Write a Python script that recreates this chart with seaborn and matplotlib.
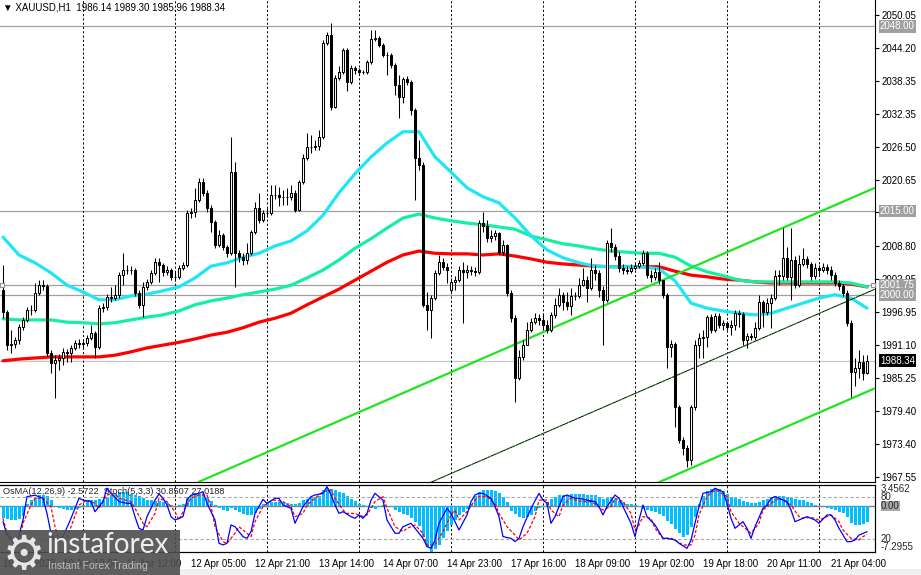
import matplotlib
matplotlib.use("Agg")
import matplotlib.pyplot as plt
import matplotlib.transforms as mtransforms
from matplotlib.patches import Rectangle
import numpy as np
import seaborn as sns

sns.set_style("white")
plt.rcParams['font.family'] = ['Liberation Sans', 'DejaVu Sans']

# ---------------- data (XAUUSD H1, bars 10 Apr 04:00 .. 21 Apr 13:00) ----------------
open_ = [2001.0, 1997.0, 1991.1, 1991.3, 1992.0, 1994.3, 1995.6, 1997.4, 1997.4, 2000.4,
         2001.8, 2001.7, 1989.7, 1987.9, 1988.5, 1988.8, 1989.9, 1989.7, 1990.6, 1991.5,
         1991.3, 1991.5, 1992.4, 1993.3, 1990.8, 1997.7, 1997.9, 1999.7, 1999.5, 2000.1,
         2003.6, 2004.5, 2004.5, 2004.5, 2000.4, 1998.3, 2001.5, 2002.4, 2004.0, 2005.9,
         2005.4, 2004.2, 2004.5, 2003.3, 2003.3, 2004.9, 2005.4, 2014.7, 2014.9, 2017.0,
         2020.2, 2018.3, 2015.6, 2013.1, 2009.0, 2010.8, 2008.6, 2007.5, 2022.0, 2007.5,
         2006.8, 2006.3, 2007.5, 2011.3, 2015.6, 2013.4, 2014.7, 2014.7, 2017.9, 2017.9,
         2017.5, 2017.5, 2017.5, 2018.3, 2015.2, 2020.2, 2024.5, 2026.5, 2026.5, 2026.7,
         2028.3, 2045.1, 2046.5, 2033.6, 2038.8, 2039.9, 2043.8, 2038.1, 2040.6, 2040.2,
         2039.9, 2039.9, 2041.7, 2045.8, 2045.9, 2044.7, 2042.9, 2042.9, 2041.1, 2037.6,
         2035.4, 2038.6, 2038.1, 2033.1, 2024.5, 2023.3, 1998.3, 1997.4, 1999.5, 2004.0,
         2005.9, 2005.1, 2001.0, 2002.4, 2002.7, 2004.5, 2004.2, 2004.5, 2004.3, 2004.2,
         2012.9, 2012.4, 2010.2, 2010.6, 2011.1, 2007.7, 2009.0, 2000.4, 1995.9, 1985.2,
         1989.0, 1991.1, 1993.8, 1995.2, 1995.9, 1995.6, 1994.7, 1993.8, 1996.5, 1998.3,
         2000.1, 1998.8, 1998.1, 1999.9, 1999.9, 2001.8, 2002.7, 2001.3, 2004.5, 2004.0,
         2001.0, 1999.2, 2009.3, 2008.6, 2007.0, 2004.9, 2004.5, 2004.3, 2004.9, 2005.2,
         2005.8, 2007.5, 2003.6, 2003.3, 2004.2, 2002.7, 2000.1, 1990.8, 1991.3, 1980.1,
         1974.2, 1972.7, 1970.6, 1980.1, 1991.1, 1992.4, 1992.6, 1996.1, 1993.8, 1996.3,
         1994.7, 1995.1, 1994.3, 1994.7, 1996.8, 1996.6, 1992.0, 1992.7, 1992.6, 1994.2,
         1998.8, 1997.0, 1998.6, 1999.5, 2003.5, 2003.5, 2006.7, 2003.3, 2006.3, 2001.8,
         2005.6, 2006.5, 2005.6, 2003.5, 2004.9, 2004.5, 2005.1, 2004.5, 2003.6, 2002.2,
         2001.7, 2000.4, 1995.1, 1986.3, 1987.0, 1988.1, 1986.14]
high = [2005.4, 1997.4, 1993.8, 1992.6, 1994.9, 1996.1, 1997.9, 1998.3, 2002.2, 2002.7,
        2002.7, 2002.0, 1990.2, 1989.3, 1989.5, 1990.6, 1990.4, 1991.1, 1992.0, 1992.2,
        1992.0, 1992.9, 1994.7, 1993.6, 1998.3, 1998.6, 2000.2, 2001.5, 2001.8, 2004.2,
        2007.5, 2005.4, 2005.2, 2004.9, 2001.0, 2002.4, 2002.9, 2004.5, 2006.7, 2006.7,
        2005.8, 2005.2, 2004.9, 2004.3, 2005.4, 2005.9, 2015.2, 2015.6, 2019.2, 2020.9,
        2020.9, 2018.8, 2016.1, 2013.4, 2011.7, 2011.1, 2009.0, 2028.3, 2023.8, 2008.1,
        2007.5, 2009.3, 2011.7, 2016.7, 2018.3, 2015.2, 2015.6, 2019.7, 2019.7, 2019.3,
        2018.8, 2019.2, 2019.7, 2018.8, 2020.6, 2025.2, 2029.0, 2028.6, 2027.7, 2029.5,
        2045.6, 2047.0, 2048.6, 2039.3, 2040.9, 2044.2, 2044.2, 2041.1, 2040.9, 2040.6,
        2040.2, 2042.0, 2047.4, 2047.4, 2046.3, 2045.1, 2043.4, 2043.3, 2041.5, 2039.3,
        2039.0, 2039.2, 2038.4, 2033.4, 2027.7, 2023.8, 2000.6, 2000.1, 2004.5, 2007.2,
        2006.7, 2005.8, 2003.1, 2003.4, 2005.2, 2005.9, 2005.4, 2005.2, 2005.1, 2013.4,
        2014.9, 2013.4, 2011.7, 2011.7, 2011.3, 2009.9, 2009.2, 2001.0, 1996.5, 1990.2,
        1992.0, 1995.2, 1995.9, 1996.8, 1996.6, 1996.8, 1995.6, 1997.0, 1999.5, 2001.3,
        2000.6, 2000.6, 2001.3, 2000.6, 2003.1, 2004.9, 2003.4, 2006.7, 2005.4, 2004.5,
        2001.7, 2009.9, 2012.0, 2009.2, 2007.7, 2005.6, 2005.2, 2005.6, 2005.9, 2006.3,
        2008.1, 2007.9, 2004.5, 2004.9, 2005.9, 2002.7, 2000.4, 1992.0, 1991.7, 1980.4,
        1974.7, 1973.3, 1980.4, 1992.0, 1993.3, 1993.8, 1996.5, 1996.6, 1996.8, 1996.8,
        1995.6, 1995.4, 1995.6, 1997.4, 1997.4, 1997.0, 1993.3, 1993.3, 1995.2, 2000.1,
        1999.2, 1999.5, 2000.2, 2004.5, 2004.5, 2012.0, 2008.6, 2012.0, 2007.0, 2007.2,
        2008.4, 2007.0, 2005.9, 2005.8, 2005.4, 2005.8, 2005.6, 2005.2, 2004.2, 2002.7,
        2002.0, 2001.0, 1995.6, 1988.8, 1990.2, 1989.3, 1989.30]
low = [1995.9, 1990.2, 1989.7, 1990.6, 1991.3, 1993.8, 1995.2, 1996.5, 1997.0, 2000.1,
       2001.0, 1989.1, 1986.1, 1981.7, 1986.7, 1987.6, 1988.1, 1988.1, 1990.2, 1990.6,
       1990.6, 1990.9, 1992.0, 1988.8, 1990.4, 1997.0, 1997.4, 1998.8, 1999.2, 1999.5,
       2001.8, 2003.8, 2003.8, 1999.9, 1997.7, 1996.1, 2001.0, 2002.0, 2003.6, 2002.4,
       2003.4, 2003.6, 2002.7, 2002.5, 2002.9, 2004.5, 2005.1, 2013.8, 2014.0, 2016.7,
       2017.7, 2014.9, 2011.3, 2008.4, 2008.6, 2008.1, 2006.8, 2007.2, 2001.5, 2005.9,
       2005.4, 2005.6, 2007.2, 2010.9, 2012.9, 2013.1, 2014.0, 2014.3, 2017.2, 2015.9,
       2016.1, 2016.1, 2017.0, 2014.9, 2015.0, 2019.9, 2024.2, 2025.4, 2025.9, 2025.9,
       2027.9, 2044.7, 2033.1, 2033.4, 2038.4, 2039.5, 2036.5, 2037.7, 2039.5, 2039.3,
       2039.5, 2039.5, 2041.3, 2045.4, 2044.3, 2042.5, 2039.3, 2040.6, 2035.8, 2031.7,
       2034.3, 2037.6, 2032.2, 2017.0, 2022.4, 1997.9, 1993.8, 1992.4, 1999.2, 2003.6,
       2004.5, 2002.2, 2000.6, 2001.0, 2002.4, 1995.1, 2003.1, 2003.6, 2003.4, 2003.8,
       2011.3, 2009.5, 2009.5, 2009.9, 2007.2, 2007.2, 1999.9, 1995.2, 1981.0, 1984.9,
       1988.5, 1991.1, 1993.4, 1994.9, 1994.7, 1993.8, 1993.3, 1993.4, 1995.9, 1997.9,
       1997.4, 1997.4, 1996.5, 1999.2, 1999.5, 2001.7, 1998.8, 2001.0, 2002.7, 1999.7,
       1991.1, 1998.8, 2007.7, 2006.3, 2004.2, 2003.8, 2003.8, 2004.0, 2004.5, 2004.9,
       2005.4, 2003.1, 2002.4, 2002.7, 2002.0, 1999.5, 1987.0, 1989.0, 1976.5, 1973.6,
       1971.5, 1969.3, 1969.7, 1979.5, 1988.8, 1988.8, 1990.8, 1993.3, 1993.4, 1994.2,
       1993.8, 1993.8, 1992.9, 1993.8, 1994.3, 1991.1, 1990.6, 1992.0, 1992.0, 1993.8,
       1994.3, 1996.5, 1994.2, 1999.2, 2001.8, 2002.7, 2002.7, 1999.2, 2001.3, 2001.5,
       2005.2, 2004.9, 2002.7, 2002.9, 2003.6, 2004.2, 2003.8, 2002.7, 2001.7, 2001.0,
       1999.9, 1994.5, 1981.8, 1983.8, 1985.2, 1984.9, 1985.96]
close = [1997.0, 1991.1, 1991.3, 1992.0, 1994.3, 1995.6, 1997.4, 1997.4, 2000.4, 2001.8,
         2001.7, 1989.7, 1987.9, 1988.5, 1988.8, 1989.9, 1989.7, 1990.6, 1991.5, 1991.3,
         1991.5, 1992.4, 1993.3, 1990.8, 1997.7, 1997.9, 1999.7, 1999.5, 2000.1, 2003.6,
         2004.5, 2004.5, 2004.5, 2000.4, 1998.3, 2001.5, 2002.4, 2004.0, 2005.9, 2005.4,
         2004.2, 2004.5, 2003.3, 2003.3, 2004.9, 2005.4, 2014.7, 2014.9, 2017.0, 2020.2,
         2018.3, 2015.6, 2013.1, 2009.0, 2010.8, 2008.6, 2007.5, 2022.0, 2007.5, 2006.8,
         2006.3, 2007.5, 2011.3, 2015.6, 2013.4, 2014.7, 2014.7, 2017.9, 2017.9, 2017.5,
         2017.5, 2017.5, 2018.3, 2015.2, 2020.2, 2024.5, 2026.5, 2026.5, 2026.7, 2028.3,
         2045.1, 2046.5, 2033.6, 2038.8, 2039.9, 2043.8, 2038.1, 2040.6, 2040.2, 2039.9,
         2039.9, 2041.7, 2045.8, 2045.9, 2044.7, 2042.9, 2042.9, 2041.1, 2037.6, 2035.4,
         2038.6, 2038.1, 2033.1, 2024.5, 2023.3, 1998.3, 1997.4, 1999.5, 2004.0, 2005.9,
         2005.1, 2004.5, 2002.4, 2002.7, 2004.5, 2004.2, 2004.5, 2004.3, 2004.2, 2012.9,
         2012.4, 2010.2, 2010.6, 2011.1, 2007.7, 2009.0, 2000.4, 1995.9, 1985.2, 1989.0,
         1991.1, 1993.8, 1995.2, 1995.9, 1995.6, 1994.7, 1993.8, 1996.5, 1998.3, 2000.1,
         1998.8, 1998.1, 1999.9, 1999.9, 2001.8, 2002.7, 2001.3, 2004.5, 2004.0, 2001.0,
         1999.2, 2009.3, 2008.6, 2007.0, 2004.9, 2004.5, 2004.3, 2004.9, 2005.2, 2005.8,
         2007.5, 2003.6, 2003.3, 2004.2, 2002.7, 2000.1, 1990.8, 1991.3, 1980.1, 1974.2,
         1972.7, 1970.6, 1980.1, 1991.1, 1992.4, 1992.6, 1996.1, 1993.8, 1996.3, 1994.7,
         1995.1, 1994.3, 1994.7, 1996.8, 1996.6, 1992.0, 1992.7, 1992.6, 1994.2, 1998.8,
         1997.0, 1998.6, 1999.5, 2003.5, 2003.5, 2006.7, 2003.3, 2006.3, 2001.8, 2005.6,
         2006.5, 2005.6, 2003.5, 2004.9, 2004.5, 2005.1, 2004.5, 2003.6, 2002.2, 2001.7,
         2000.4, 1995.1, 1986.3, 1987.0, 1988.1, 1986.1, 1988.34]

# moving averages, read every 4th bar
ma_bars = list(range(0, 217, 4))
ma_fast = [2010.4, 2007.2, 2005.8, 2004.0, 2001.8, 2000.6, 1999.2, 1999.2, 1999.9, 2000.2,
           2000.8, 2001.5, 2003.1, 2005.2, 2005.8, 2006.8, 2007.5, 2008.8, 2009.7, 2011.5,
           2014.3, 2018.3, 2021.7, 2024.7, 2027.2, 2029.2, 2029.2, 2024.7, 2022.0, 2019.2,
           2017.6, 2016.5, 2013.8, 2010.6, 2008.1, 2006.7, 2005.8, 2005.2, 2005.1, 2005.1,
           2005.1, 2004.7, 2002.6, 1998.6, 1997.7, 1997.2, 1996.8, 1996.5, 1996.8, 1997.7,
           1998.6, 1999.5, 2000.1, 1999.5, 1997.7]
ma_mid = [1995.8, 1995.6, 1995.6, 1995.6, 1995.2, 1995.1, 1994.9, 1995.1, 1995.6, 1996.1,
          1996.5, 1997.2, 1998.3, 1999.0, 1999.5, 2000.1, 2000.6, 2001.1, 2001.8, 2003.1,
          2004.5, 2006.3, 2008.4, 2010.1, 2012.0, 2013.8, 2014.5, 2013.8, 2013.3, 2012.9,
          2012.6, 2012.2, 2011.8, 2010.6, 2009.9, 2009.2, 2008.8, 2008.3, 2007.9, 2007.7,
          2007.5, 2007.5, 2006.8, 2005.2, 2004.2, 2003.5, 2002.7, 2002.4, 2002.4, 2002.4,
          2002.4, 2002.4, 2002.4, 2002.2, 2001.5]
ma_slow = [1988.3, 1988.6, 1988.8, 1989.0, 1989.0, 1989.0, 1989.0, 1989.3, 1989.9, 1990.6,
           1991.1, 1991.6, 1992.2, 1992.9, 1993.4, 1994.2, 1995.2, 1995.9, 1996.8, 1998.3,
           1999.7, 2001.1, 2002.7, 2004.3, 2005.9, 2007.2, 2007.9, 2007.5, 2007.4, 2007.4,
           2007.2, 2007.4, 2007.0, 2006.5, 2005.9, 2005.6, 2005.4, 2005.2, 2005.1, 2005.1,
           2005.1, 2005.1, 2004.3, 2003.6, 2003.3, 2002.9, 2002.7, 2002.4, 2002.2, 2002.2,
           2002.2, 2002.2, 2002.2, 2002.0, 2001.5]

# equidistant channel (two anchor bars)
chan_bars = [49, 218]
chan_upper = [1966.7, 2019.2]
chan_middle = [1948.6, 2001.1]
chan_lower = [1930.9, 1983.4]

levels = [2048.00, 2015.00, 2001.75, 2000.00]
last_price = 1988.34
price_ticks = [2050.05, 2044.20, 2038.35, 2032.35, 2026.50, 2020.65, 2014.80, 2008.80,
               2002.95, 1996.95, 1991.10, 1985.25, 1979.40, 1973.40, 1967.55]
grid_bars = [20, 43, 66, 89, 112, 135, 158, 181, 204]
label_bars = [0, 15, 31, 47, 63, 79, 95, 111, 127, 143, 159, 175, 191, 207]
time_labels = ["10 Apr 2023", "10 Apr 19:00", "11 Apr 12:00", "12 Apr 05:00", "12 Apr 21:00",
               "13 Apr 14:00", "14 Apr 07:00", "14 Apr 23:00", "17 Apr 16:00", "18 Apr 09:00",
               "19 Apr 02:00", "19 Apr 18:00", "20 Apr 11:00", "21 Apr 04:00"]

osma = [-1.9, -2.1, -2.3, -2.3, -2.1, -1.6, 0.3, 0.9, 1.4, 1.7,
        1.8, 1.6, 0.9, -0.2, -0.4, -0.5, -0.6, -0.6, -0.5, -0.4,
        0.2, 0.8, 1.0, 1.0, 1.1, 1.0, 1.3, 1.8, 2.1, 2.2,
        2.3, 2.2, 1.9, 1.8, 1.6, 1.3, 1.0, 0.9, 0.8, 0.8,
        0.7, 0.5, 0.2, 0.0, 0.1, 0.3, 1.4, 1.8, 1.9, 2.0,
        1.8, 1.4, 0.8, 0.2, -0.3, -0.6, -0.8, -0.4, -0.7, -1.0,
        -1.3, -1.4, -1.4, -1.1, -0.5, 0.3, 0.6, 0.7, 0.7, 0.7,
        0.6, 0.5, 0.4, 0.3, 0.5, 0.9, 1.2, 1.4, 1.5, 1.6,
        2.6, 2.9, 2.8, 2.5, 2.2, 2.1, 1.6, 1.2, 0.8, 0.4,
        0.1, -0.2, -0.4, -0.5, -0.2, 0.1, 0.0, -0.2, -0.6, -1.0,
        -1.3, -1.5, -1.9, -2.6, -3.2, -5.0, -6.6, -7.3, -6.9, -6.2,
        -5.2, -4.0, -3.0, -2.2, -1.5, -0.9, -0.5, 0.3, 1.6, 2.2,
        2.5, 2.6, 2.6, 2.4, 2.1, 1.4, 0.7, -0.8, -1.3, -1.8,
        -2.0, -1.8, -1.4, -0.8, -0.4, -0.2, 0.6, 1.1, 1.5, 1.7,
        1.8, 1.8, 1.9, 2.0, 2.0, 1.9, 1.8, 1.8, 1.7, 1.5,
        1.2, 1.3, 1.4, 1.1, 0.8, 0.6, 0.4, 0.3, 0.1, -0.2,
        -0.5, -0.6, -0.8, -1.0, -1.3, -1.6, -2.4, -2.9, -3.7, -4.4,
        -4.9, -4.7, -3.4, -1.8, 0.3, 1.6, 2.4, 2.7, 2.9, 2.8,
        2.4, 1.9, 1.5, 1.3, 1.1, 0.8, 0.6, 0.5, 0.5, 0.7,
        0.9, 1.2, 1.4, 1.6, 1.6, 1.6, 1.5, 1.3, 1.1, 1.0,
        0.9, 0.7, 0.5, 0.2, 0.0, 0.0, -0.3, -0.5, -0.7, -0.9,
        -1.2, -1.7, -2.8, -3.1, -3.0, -2.9, -2.57]

stoch_main_bars = [0, 1, 3, 4, 5, 6, 8, 10, 11, 12, 13, 15, 17, 19, 20, 22, 23, 25, 26, 27,
                   29, 31, 32, 33, 34, 35, 36, 38, 39, 40, 41, 42, 43, 45, 46, 47, 49, 50, 51, 53,
                   54, 55, 56, 57, 58, 60, 61, 62, 63, 65, 66, 68, 69, 70, 72, 73, 74, 75, 77, 78,
                   80, 81, 82, 83, 84, 85, 87, 88, 89, 90, 91, 92, 93, 95, 96, 98, 99, 100, 102, 103,
                   105, 106, 107, 108, 109, 111, 112, 114,
                   116, 117, 118, 119, 120, 122, 123, 124, 125, 127, 128, 129, 130, 132, 134, 135,
                   136, 137, 138, 140, 141, 143, 144, 146, 148, 149, 150, 151, 153, 154, 155, 157,
                   158, 159, 160, 161, 163, 164, 165, 166, 168, 169, 171, 172, 173, 174, 175, 177,
                   178, 180, 181, 182, 183, 185, 186, 187, 188, 190, 191, 192, 193, 194, 196, 197,
                   198, 199, 201, 202, 203, 204, 206, 207, 208, 209, 211, 212, 213, 214, 216]
stoch_main = [45.2, 26, 14, 26, 47.6, 81, 83, 78.6, 57, 28.6, 19, 23.8, 50, 78.6, 76, 74, 59.5, 74, 93, 85.7,
              74, 71.4, 71.4, 52.4, 35.7, 33.3, 52.4, 76, 84.8, 78.6, 69, 52.4, 47.6, 52.4, 76, 83, 85.7, 88, 71.4, 47.6,
              14.3, 12, 14.3, 40.5, 38, 23.8, 21.4, 31, 57, 77, 71.4, 78.6, 78.6, 69, 64.3, 42.9, 54.8, 66.7, 81, 83.3,
              85.7, 95.2, 83.3, 69, 57, 59.5, 52.4, 50, 54.8, 50, 57, 76, 85.7, 76, 47.6, 28.6, 28.6, 38, 42.9, 35.7,
              21.4, 9.5, 7.1, 19, 42.9, 64.3, 57, 33.3,
              54.8, 73.8, 83.3, 85.7, 85.7, 78.6, 66.7, 52.4, 23.8, 21.4, 16.7, 21.4, 38, 64.3, 85.7, 76,
              71.4, 42.9, 52.4, 81, 83.3, 78.6, 78.6, 76, 73.8, 66.7, 54.8, 66.7, 83.3, 78.6, 66.7, 42.9,
              23.8, 47.6, 69, 52.4, 40.5, 31, 21.4, 21.4, 19, 14.3, 7.1, 19, 42.9, 66.7, 85.7, 88,
              92.9, 88, 71.4, 50, 35.7, 45.2, 35.7, 21.4, 38, 64.3, 69, 78.6, 81, 78.6, 73.8, 61.9,
              45.2, 47.6, 52.4, 50, 47.6, 42.9, 54.8, 54.8, 47.6, 35.7, 16.7, 16.7, 19, 26, 30.85]
stoch_sig_bars = [0, 1, 3, 4, 5, 7, 8, 10, 12, 13, 14, 16, 17, 19, 21, 23, 24, 26, 28, 29,
                  32, 33, 35, 36, 38, 39, 41, 43, 44, 45, 47, 49, 51, 52, 53, 55, 56, 58, 59, 61,
                  62, 63, 65, 67, 68, 70, 72, 73, 75, 76, 78, 80, 82, 83, 85, 86, 88, 90, 91, 93,
                  95, 96, 98, 100, 101, 103, 105, 106, 108, 110, 112, 113,
                  114, 116, 118, 119, 121, 123, 124, 126, 128, 129, 131, 133, 134, 136, 137, 139,
                  140, 142, 143, 145, 147, 148, 150, 152, 153, 155, 157, 158, 159, 160, 162, 163,
                  165, 167, 168, 170, 172, 173, 174, 176, 178, 179, 181, 182, 184, 186, 187, 189,
                  190, 192, 194, 195, 197, 199, 200, 202, 204, 205, 207, 209, 210, 212, 214, 215, 216]
stoch_sig = [50, 28.6, 16.7, 16.7, 42.9, 69, 78.6, 78.6, 66.7, 38, 19, 21.4, 38, 69, 76, 71.4, 64.3, 83.3, 85.7, 78.6,
             73.8, 64.3, 42.9, 38, 57, 78.6, 73.8, 59.5, 47.6, 59.5, 78.6, 83.3, 83.3, 66.7, 38, 16.7, 14.3, 28.6, 38, 28.6,
             23.8, 45.2, 66.7, 75.2, 76, 73.8, 66.7, 52.4, 57, 69, 78.6, 88, 90.5, 78.6, 61.9, 57, 57, 52.4, 54.8, 73.8,
             81, 64.3, 38, 31, 35.7, 40.5, 28.6, 11.9, 11.9, 31, 54.8, 61.9,
             47.6, 59.5, 76, 81, 81, 71.4, 57, 38, 26, 19, 28.6, 52.4, 76, 76, 61.9, 52.4,
             69, 78.6, 76, 73.8, 73.8, 70.5, 61.9, 66.7, 78.6, 73.8, 57, 33.3, 40.5, 52.4, 50, 35.7,
             21.4, 21.4, 19, 11.9, 11.9, 26, 54.8, 81, 90.5, 88, 81, 59.5, 42.9, 33.3, 28.6, 42.9,
             61.9, 71.4, 78.6, 76, 69, 52.4, 50, 51.4, 47.6, 50, 54.8, 45.2, 33.3, 21.4, 19, 23.8, 27.0]

# ---------------- figure ----------------
W, H = 921, 575
fig = plt.figure(figsize=(W / 100, H / 100), dpi=100)
fig.patch.set_facecolor('white')


def frac(x0, y0, x1, y1):
    return [x0 / W, 1 - y1 / H, (x1 - x0) / W, (y1 - y0) / H]


ax = fig.add_axes(frac(0, 0, 875, 482))
axi = fig.add_axes(frac(0, 485, 875, 552))
axs = axi.twinx()

n = len(close)
bars = np.arange(n)
XLIM = (-0.75, 218.0)
FS = 7

# ---------- main panel ----------
ax.set_xlim(*XLIM)
ax.set_ylim(1966.66, 2052.73)
for lvl in levels:
    ax.axhline(lvl, color='#A0A0A0', lw=0.9, zorder=1)
ax.axhline(last_price, color='#C8C8C8', lw=0.9, zorder=1)
for g in grid_bars:
    ax.axvline(g, color='black', lw=0.7, ls=(0, (2.2, 2.2)), zorder=1)

sns.lineplot(x=ma_bars, y=ma_slow, ax=ax, color='#FF0000', lw=2.3, zorder=2)
sns.lineplot(x=ma_bars, y=ma_mid, ax=ax, color='#14F0A0', lw=2.3, zorder=2)
sns.lineplot(x=ma_bars, y=ma_fast, ax=ax, color='#1EE6F5', lw=2.3, zorder=2)

sns.lineplot(x=chan_bars, y=chan_upper, ax=ax, color='#1EE61E', lw=1.6, zorder=3)
sns.lineplot(x=chan_bars, y=chan_lower, ax=ax, color='#1EE61E', lw=1.6, zorder=3)
sns.lineplot(x=chan_bars, y=chan_middle, ax=ax, color='black', lw=0.7, zorder=3)
sns.lineplot(x=chan_bars, y=chan_middle, ax=ax, color='#1EE61E', lw=0.7, ls=(0, (1, 2.5)), zorder=3)

o = np.array(open_); c = np.array(close); h = np.array(high); l = np.array(low)
top = np.maximum.reduce([h, o, c]); bot = np.minimum.reduce([l, o, c])
ax.vlines(bars, bot, top, color='black', lw=0.75, zorder=4)
up = c >= o
body_lo = np.minimum(o, c); body_h = np.maximum(np.abs(c - o), 0.05)
ax.bar(bars[up], body_h[up], bottom=body_lo[up], width=0.55, facecolor='white',
       edgecolor='black', lw=0.75, zorder=5)
ax.bar(bars[~up], body_h[~up], bottom=body_lo[~up], width=0.55, facecolor='black',
       edgecolor='black', lw=0.75, zorder=5)

# anchor squares of the 2001.75 line
ax.plot([-0.2, 217.4], [2001.75, 2001.75], ls='none', marker='s', ms=3.5, mfc='white',
        mec='#909090', mew=0.8, clip_on=False, zorder=6)

ax.yaxis.tick_right()
ax.set_yticks(price_ticks)
ax.set_yticklabels([f"{v:.2f}" for v in price_ticks])
ax.tick_params(axis='y', direction='out', length=3, width=0.8, pad=1.5,
               labelsize=FS, colors='black')
ax.set_xticks([])
ax.set_xlabel(''); ax.set_ylabel('')
for s in ['left', 'top']:
    ax.spines[s].set_visible(False)
for s in ['right', 'bottom']:
    ax.spines[s].set_linewidth(0.8); ax.spines[s].set_color('black')

trans = mtransforms.blended_transform_factory(ax.transAxes, ax.transData)
for lvl in levels:
    ax.text(1 + 5 / 875, lvl, f"{lvl:.2f}", transform=trans, ha='left', va='center',
            fontsize=FS, color='white', clip_on=False, zorder=10,
            bbox=dict(boxstyle='square,pad=0.12', fc='#A0A0A0', ec='none'))
ax.text(1 + 5 / 875, last_price, f"{last_price:.2f}", transform=trans, ha='left', va='center',
        fontsize=FS, color='white', clip_on=False, zorder=11,
        bbox=dict(boxstyle='square,pad=0.12', fc='black', ec='none'))

fig.text(3 / W, 1 - 7.5 / H, "\u25BC XAUUSD,H1  1986.14 1989.30 1985.96 1988.34",
         fontsize=FS, va='center', ha='left', color='black')

# ---------- indicator panel ----------
axi.set_xlim(*XLIM)
axi.set_ylim(-7.38, 3.37)
axi.bar(bars, osma, width=0.75, color='#00BFFF', edgecolor='none', linewidth=0, zorder=2)
axi.axhline(0, color='#808080', lw=1.0, zorder=1)
for g in grid_bars:
    axi.axvline(g, color='black', lw=0.7, ls=(0, (2.2, 2.2)), zorder=1)
axs.set_ylim(1.86, 97.6)
axs.axhline(80, color='#A8A8A8', lw=0.8, ls=(0, (3, 2)), zorder=1)
axs.axhline(20, color='#A8A8A8', lw=0.8, ls=(0, (3, 2)), zorder=1)
sns.lineplot(x=stoch_sig_bars, y=stoch_sig, ax=axs, color='#FF0000', lw=0.9,
             ls=(0, (2.5, 1.5)), zorder=3)
sns.lineplot(x=stoch_main_bars, y=stoch_main, ax=axs, color='#0000FF', lw=0.9, zorder=4)
axs.set_xlim(*XLIM)
axs.set_yticks([]); axs.set_ylabel(''); axs.set_xlabel('')
axi.set_yticks([]); axi.set_ylabel('')
for a in (axi, axs):
    a.spines['left'].set_visible(False)
    for s in ['right', 'bottom', 'top']:
        a.spines[s].set_linewidth(0.8); a.spines[s].set_color('black')

axi.set_xticks(label_bars)
axi.set_xticklabels(time_labels, ha='left')
axi.tick_params(axis='x', direction='out', length=3, width=0.8, pad=2, labelsize=FS,
                colors='black')
axi.set_xlabel('')

axi.text(3 / 875, 0.9, "OsMA(12,26,9) -2.5722  Stoch(5,3,3) 30.8507 27.0188",
         transform=axi.transAxes, fontsize=6.6, va='center', ha='left', zorder=10)

tri = mtransforms.blended_transform_factory(axi.transAxes, axi.transAxes)
trs = mtransforms.blended_transform_factory(axs.transAxes, axs.transData)
tro = mtransforms.blended_transform_factory(axi.transAxes, axi.transData)
xl = 1 + 6 / 875
axi.text(xl, 1 - 4 / 67, "3.4562", transform=tri, fontsize=FS, va='center', ha='left', clip_on=False)
axs.text(xl, 80, "80", transform=trs, fontsize=FS, va='center', ha='left', clip_on=False)
axi.text(xl, 0, "0.00", transform=tro, fontsize=FS, va='center', ha='left', clip_on=False,
         bbox=dict(boxstyle='square,pad=0.05', fc='#A8A8A8', ec='none'), zorder=10)
axs.text(xl, 20, "20", transform=trs, fontsize=FS, va='center', ha='left', clip_on=False)
axi.text(xl, 5 / 67, "-7.2955", transform=tri, fontsize=FS, va='center', ha='left', clip_on=False)

# bottom band
fig.add_artist(Rectangle((0, 0), 1, 6 / H, transform=fig.transFigure, fc='#F0F0F0',
                         ec='none', zorder=1))

# watermark
fig.add_artist(Rectangle((0, 0), 180 / W, 45 / H, transform=fig.transFigure,
                         fc='#4E4E4E', ec='none', alpha=0.9, zorder=20))
fig.text(24 / W, 1 - 557 / H, "\u2699", fontsize=34, color='#E6E6E6', ha='center',
         va='center', family='DejaVu Sans', zorder=21)
fig.text(46 / W, 1 - 545 / H, "instaforex", fontsize=20, color='#EDEDED', ha='left',
         va='center', family='Lato', zorder=21)
fig.text(48 / W, 1 - 566 / H, "Instant Forex Trading", fontsize=7.6, color='#BDBDBD',
         ha='left', va='center', zorder=21)

fig.savefig("out.png", dpi=100)
